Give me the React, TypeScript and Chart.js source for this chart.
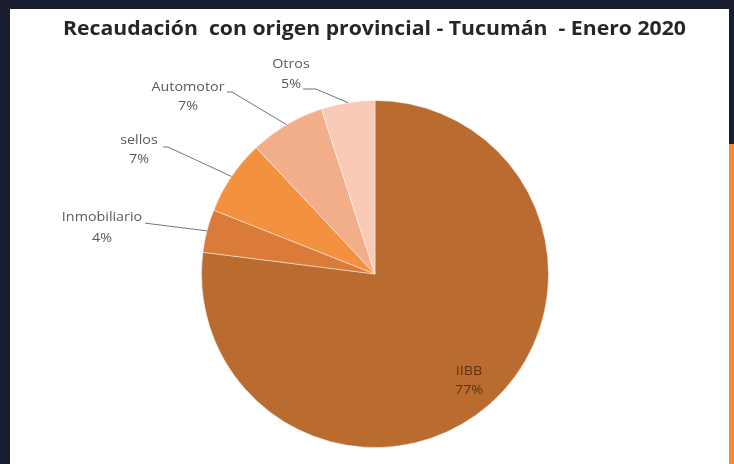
import React, { useEffect, useRef } from 'react';
import { Chart, registerables } from 'chart.js';

Chart.register(...registerables);

const title = 'Recaudación  con origen provincial - Tucumán  - Enero 2020';
const categories = ['IIBB', 'Inmobiliario', 'sellos', 'Automotor', 'Otros'];
const values = [77, 4, 7, 7, 5];
const percentLabels = ['77%', '4%', '7%', '7%', '5%'];
const sliceColors = ['#b96b30', '#db7b39', '#f4913f', '#f2ae89', '#f7cbb6'];

// Label layout (positions only, not data): text centre for first line, line gap, leader start/elbow
const outsideLayout: Record<number, { cx: number; cy: number; gap: number; sx: number; sy: number; ex: number; ey: number }> = {
  1: { cx: 102, cy: 218, gap: 21, sx: 145, sy: 223, ex: 152, ey: 224 },
  2: { cx: 139, cy: 141, gap: 19, sx: 163, sy: 147, ex: 168, ey: 147 },
  3: { cx: 188, cy: 88, gap: 19, sx: 227, sy: 92, ex: 232, ey: 92 },
  4: { cx: 291, cy: 65, gap: 20, sx: 303, sy: 89, ex: 316, ey: 89 },
};

const LABEL_FONT = '12px "Open Sans"';
const TITLE_FONT = 'bold 19px "Open Sans"';

function drawScaledText(ctx: CanvasRenderingContext2D, text: string, cx: number, cy: number, sx: number) {
  ctx.save();
  ctx.translate(cx, cy);
  ctx.scale(sx, 1);
  ctx.fillText(text, 0, 0);
  ctx.restore();
}

const labelPlugin = {
  id: 'customLabels',
  afterDatasetsDraw(chart: any) {
    const ctx: CanvasRenderingContext2D = chart.ctx;
    const meta = chart.getDatasetMeta(0);
    ctx.save();
    // title
    ctx.font = TITLE_FONT;
    ctx.fillStyle = '#262626';
    ctx.textAlign = 'center';
    ctx.textBaseline = 'middle';
    const tw = ctx.measureText(title).width;
    drawScaledText(ctx, title, 374.5, 30, 623 / tw);

    ctx.font = LABEL_FONT;
    const baseW = ctx.measureText('Automotor').width;
    const lblScale = 73 / baseW;

    meta.data.forEach((arc: any, i: number) => {
      const p = arc.getProps(['x', 'y', 'startAngle', 'endAngle', 'outerRadius'], true);
      const mid = (p.startAngle + p.endAngle) / 2;
      if (i === 0) {
        const d = p.outerRadius * 0.82;
        const lx = p.x + Math.cos(mid) * d;
        const ly = p.y + Math.sin(mid) * d;
        ctx.fillStyle = '#5a3414';
        ctx.font = LABEL_FONT;
        drawScaledText(ctx, categories[i], lx, ly - 9, lblScale);
        drawScaledText(ctx, percentLabels[i], lx, ly + 10, lblScale);
        return;
      }
      const L = outsideLayout[i];
      if (!L) return;
      const ax = p.x + Math.cos(mid) * p.outerRadius;
      const ay = p.y + Math.sin(mid) * p.outerRadius;
      ctx.strokeStyle = '#6e7380';
      ctx.lineWidth = 1;
      ctx.beginPath();
      ctx.moveTo(L.sx, L.sy);
      ctx.lineTo(L.ex, L.ey);
      ctx.lineTo(ax, ay);
      ctx.stroke();
      ctx.fillStyle = '#595959';
      ctx.font = LABEL_FONT;
      drawScaledText(ctx, categories[i], L.cx, L.cy, lblScale);
      drawScaledText(ctx, percentLabels[i], L.cx, L.cy + L.gap, lblScale);
    });
    ctx.restore();
  },
};

export default function App() {
  const canvasRef = useRef<HTMLCanvasElement | null>(null);

  useEffect(() => {
    if (!canvasRef.current) return;
    const chart = new Chart(canvasRef.current, {
      type: 'pie',
      data: {
        labels: categories,
        datasets: [
          {
            data: values,
            backgroundColor: sliceColors,
            borderColor: 'rgba(255,255,255,0.45)',
            borderWidth: 1,
          },
        ],
      },
      options: {
        responsive: false,
        animation: false,
        layout: { padding: { left: 201, right: 185, top: 100, bottom: 16 } },
        plugins: {
          legend: { display: false },
          tooltip: { enabled: false },
          title: { display: false },
        },
      },
      plugins: [labelPlugin],
    });
    return () => chart.destroy();
  }, []);

  return (
    <div style={{ position: 'absolute', left: 0, top: 0, width: 734, height: 464, background: '#1a1d2e', overflow: 'hidden' }}>
      <div style={{ position: 'absolute', left: 10, top: 9, width: 719, height: 455, background: '#ffffff' }} />
      <div style={{ position: 'absolute', left: 729, top: 144, width: 5, height: 320, background: '#f98b37' }} />
      <canvas ref={canvasRef} width={734} height={464} style={{ position: 'absolute', left: 0, top: 0, width: 734, height: 464 }} />
    </div>
  );
}
